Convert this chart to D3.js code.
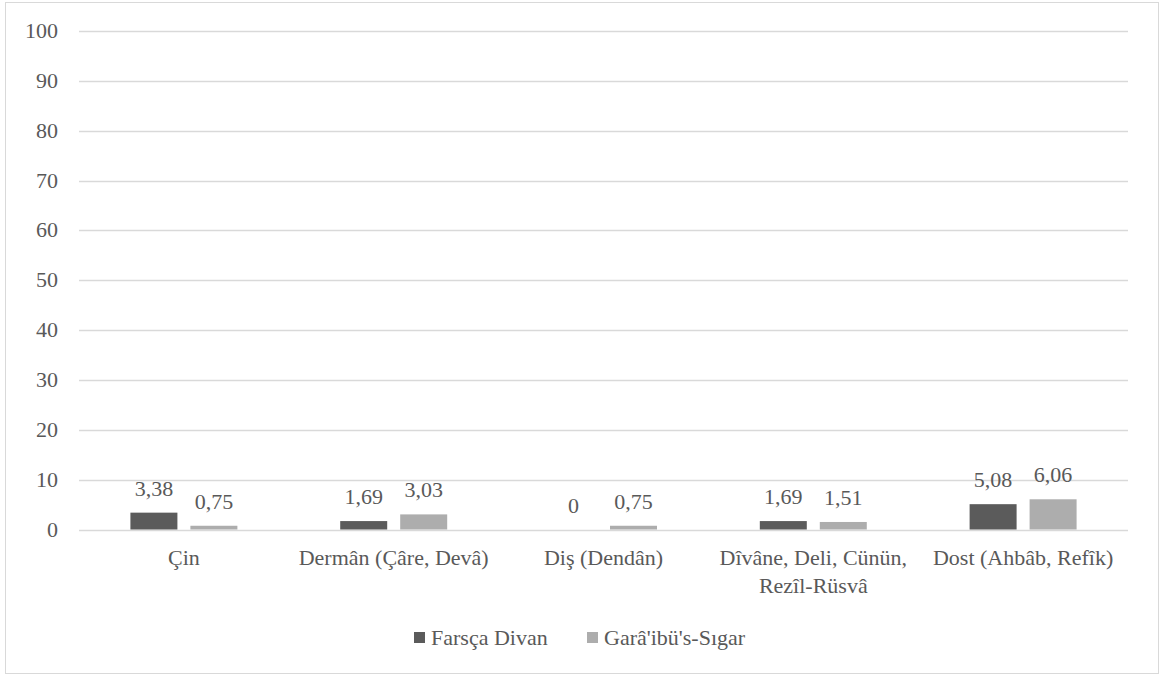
<!DOCTYPE html>
<html><head><meta charset="utf-8">
<script src="https://cdn.jsdelivr.net/npm/d3@7"></script>
</head>
<body style="margin:0"><svg id="c" width="1164" height="675"></svg>
<script>
const categories = [["Çin"], ["Dermân (Çâre, Devâ)"], ["Diş (Dendân)"], ["Dîvâne, Deli, Cünün,", "Rezîl-Rüsvâ"], ["Dost (Ahbâb, Refîk)"]];
const seriesNames = ["Farsça Divan", "Garâ'ibü's-Sıgar"];
const farscaDivan = [3.38, 1.69, 0, 1.69, 5.08];
const garaibusSigar = [0.75, 3.03, 0.75, 1.51, 6.06];
const yTicks = [0, 10, 20, 30, 40, 50, 60, 70, 80, 90, 100];
const colors = ["#5b5b5b", "#adadad"];

(function () {
const svg = d3.select("#c");
const FS = 22;

svg.append("rect").attr("x", 5.5).attr("y", 2.5).attr("width", 1153).attr("height", 671)
  .attr("fill", "#fff").attr("stroke", "#d9d9d9").attr("stroke-width", 1);

const pLeft = 79, pRight = 1128, pTop = 31, pBottom = 529.5;
const y = d3.scaleLinear().domain([0, 100]).range([pBottom, pTop]);
const keys = categories.map((c, i) => i);
const x0 = d3.scaleBand().domain(keys).range([pLeft, pRight]).padding(0);
const x1 = d3.scaleBand().domain([0, 1]).range([0, x0.bandwidth()]).paddingInner(13 / 60).paddingOuter(0.857);

svg.append("g").selectAll("line").data(yTicks).join("line")
  .attr("x1", pLeft).attr("x2", pRight)
  .attr("y1", d => Math.round(y(d)) + 0.5).attr("y2", d => Math.round(y(d)) + 0.5)
  .attr("stroke", "#d9d9d9").attr("stroke-width", 1.5);

series = [farscaDivan, garaibusSigar];
series.forEach((vals, si) => {
  svg.append("g").selectAll("rect").data(vals).join("rect")
    .attr("x", (d, i) => x0(i) + x1(si))
    .attr("width", x1.bandwidth())
    .attr("y", d => y(d))
    .attr("height", d => y(0) - y(d))
    .attr("fill", colors[si]);
});

const gEnd = svg.append("g").attr("text-anchor", "end").attr("fill", "#595959");
const gMid = svg.append("g").attr("text-anchor", "middle").attr("fill", "#595959");
const gStart = svg.append("g").attr("fill", "#595959");
function label(g, x, yy, str) {
  return g.append("text").attr("x", x).attr("y", yy).attr("font-family", "Liberation Serif").attr("font-size", FS).text(str);
}

yTicks.forEach(t => label(gEnd, 58, y(t) + 7, String(t)));

series.forEach((vals, si) => {
  vals.forEach((v, i) => {
    label(gMid, x0(i) + x1(si) + x1.bandwidth() / 2, y(v) - 17, String(v).replace(".", ","));
  });
});

categories.forEach((lines, i) => {
  lines.forEach((ln, li) => {
    label(gMid, x0(i) + x0.bandwidth() / 2, 565 + li * 27.5, ln);
  });
});

const legX = [414, 587];
seriesNames.forEach((n, i) => {
  svg.append("rect").attr("x", legX[i]).attr("y", 632).attr("width", 11).attr("height", 11).attr("fill", colors[i]);
  label(gStart, legX[i] + 17, 645, n);
});
})();
var series;
</script></body></html>
